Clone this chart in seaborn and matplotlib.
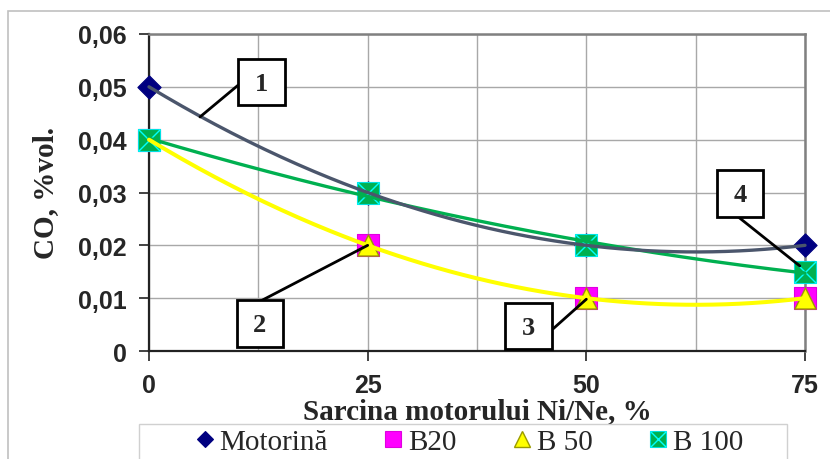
import numpy as np
import pandas as pd
import matplotlib
matplotlib.use("Agg")
import matplotlib.pyplot as plt
import matplotlib.patches as mpatches
from matplotlib.lines import Line2D
from matplotlib.legend_handler import HandlerTuple
import seaborn as sns

# ---------------- data ----------------
load = [0, 25, 50, 75]
motorina = [0.05, 0.03, 0.02, 0.02]
b20 = [0.04, 0.02, 0.01, 0.01]
b50 = [0.04, 0.02, 0.01, 0.01]
b100 = [0.04, 0.03, 0.02, 0.015]
series_names = ["Motorină", "B20", "B 50", "B 100"]
x_ticks = [0, 25, 50, 75]
x_ticklabels = ["0", "25", "50", "75"]
y_ticks = [0, 0.01, 0.02, 0.03, 0.04, 0.05, 0.06]
y_ticklabels = ["0", "0,01", "0,02", "0,03", "0,04", "0,05", "0,06"]
callout_labels = ["1", "2", "3", "4"]
x_label = "Sarcina motorului Ni/Ne, %"
y_label = "CO, %vol."

sns.set_theme(style="white")
plt.rcParams["font.family"] = ["Liberation Serif", "DejaVu Serif"]

W, H = 830, 460
fig = plt.figure(figsize=(W / 100, H / 100), dpi=100)
ax = fig.add_axes([149 / W, 1 - 352 / H, (805 - 149) / W, (352 - 35) / H])

df = pd.DataFrame({
    "x": load * 4,
    "y": motorina + b20 + b50 + b100,
    "s": sum([[n] * 4 for n in series_names], []),
})

# markers
styles = {
    "Motorină": dict(marker="D", s=140, color="#000080", edgecolor="#000080", linewidth=0.8),
    "B20": dict(marker="s", s=250, color="#ff00ff", edgecolor="#e000e0", linewidth=0.8),
    "B 50": dict(marker="^", s=230, color="#ffff00", edgecolor="#9a9a00", linewidth=1.0),
    "B 100": dict(marker="s", s=250, color="#00b050", edgecolor="#00e0e0", linewidth=0.8),
}
for name in series_names:
    sub = df[df.s == name]
    sns.scatterplot(data=sub, x="x", y="y", ax=ax, zorder=3, legend=False, clip_on=False,
                    **styles[name])
    if name == "B 100":
        sns.scatterplot(data=sub, x="x", y="y", ax=ax, marker="x", s=250, color="#00ffff",
                        linewidth=1.0, zorder=3, legend=False, clip_on=False)

# quadratic trendlines (Excel-style polynomial, order 2)
xf = np.linspace(min(load), max(load), 200)
trend = [("Motorină", motorina, "#4b566c", 2.4, 5),
         ("B 100", b100, "#00b050", 2.4, 4),
         ("B 50", b50, "#ffff00", 2.9, 6)]
for name, vals, col, lw, z in trend:
    c = np.polyfit(load, vals, 2)
    sns.lineplot(x=xf, y=np.polyval(c, xf), ax=ax, color=col, linewidth=lw, zorder=z,
                 sort=False, clip_on=False)

# axes formatting
ax.set_xlim(0, 75)
ax.set_ylim(0, 0.06)
ax.set_xticks(x_ticks)
ax.set_xticklabels(x_ticklabels)
ax.set_yticks(y_ticks)
ax.set_yticklabels(y_ticklabels)
ax.set_xticks([12.5, 37.5, 62.5], minor=True)
ax.grid(True, which="both", color="#a8a8a8", linewidth=1.0)
ax.set_axisbelow(True)
ax.tick_params(axis="both", which="major", direction="out", length=7, width=1.2,
               color="#222222", pad=9, bottom=True, left=True)
ax.tick_params(axis="x", which="minor", length=0)
for lab in ax.get_xticklabels() + ax.get_yticklabels():
    lab.set_fontfamily("Liberation Sans")
    lab.set_fontweight("bold")
    lab.set_fontsize(18)
for sp in ["left", "bottom"]:
    ax.spines[sp].set_color("#222222")
    ax.spines[sp].set_linewidth(1.6)
for sp in ["top", "right"]:
    ax.spines[sp].set_color("#808080")
    ax.spines[sp].set_linewidth(1.8)
ax.set_xlabel(x_label, fontsize=21, fontweight="bold", labelpad=0)
ax.set_ylabel(y_label, fontsize=21, fontweight="bold", labelpad=14)

# call-out boxes
box_centers = [(12.86, 0.0509), (12.69, 0.0052), (43.4, 0.0047), (67.6, 0.0298)]
line_starts = [(10.18, 0.0503), (12.69, 0.0094), (46.2, 0.0042), (67.2, 0.0256)]
line_tips = [(5.83, 0.0443), (25.0, 0.0200), (50.0, 0.0098), (74.4, 0.0161)]
bw, bh = 5.3, 0.0088
for lab, (cx, cy), st, tp in zip(callout_labels, box_centers, line_starts, line_tips):
    ax.annotate("", xy=tp, xytext=st,
                arrowprops=dict(arrowstyle="-", lw=2, color="black", shrinkA=0, shrinkB=0),
                zorder=8, annotation_clip=False)
    ax.add_patch(mpatches.Rectangle((cx - bw / 2, cy - bh / 2), bw, bh, facecolor="white",
                                    edgecolor="black", linewidth=2, zorder=9, clip_on=False))
    ax.text(cx, cy - 0.0002, lab, ha="center", va="center", fontsize=19, fontweight="bold",
            zorder=10)

# outer chart frame
fig.patches.append(mpatches.Rectangle((8 / W, -0.1), 1.2, 1 - 12 / H + 0.1, transform=fig.transFigure,
                                      fill=False, edgecolor="#c0c0c0", linewidth=1.2))
# legend frame
fig.patches.append(mpatches.Rectangle((139 / W, -0.1), (787 - 139) / W, 1 - 425 / H + 0.1,
                                      transform=fig.transFigure, facecolor="white",
                                      edgecolor="#d0d0d0", linewidth=1.0))

handles = []
for name in series_names:
    st = styles[name]
    h = Line2D([], [], linestyle="none", marker=st["marker"], markersize=np.sqrt(st["s"]) * 0.72,
               markerfacecolor=st["color"], markeredgecolor=st["edgecolor"],
               markeredgewidth=st["linewidth"])
    if name == "B 100":
        hx = Line2D([], [], linestyle="none", marker="x", markersize=np.sqrt(st["s"]) * 0.72,
                    markeredgecolor="#00ffff", markeredgewidth=1.0)
        h = (h, hx)
    handles.append(h)
leg = fig.legend(handles, series_names, loc="center left", bbox_to_anchor=(196 / W, 1 - 443 / H),
                 ncol=4, frameon=False, fontsize=21, handlelength=0.6, handletextpad=0.2,
                 columnspacing=1.95, borderpad=0, borderaxespad=0,
                 handler_map={tuple: HandlerTuple(ndivide=1, pad=0)})

fig.savefig("out.png", dpi=100)
